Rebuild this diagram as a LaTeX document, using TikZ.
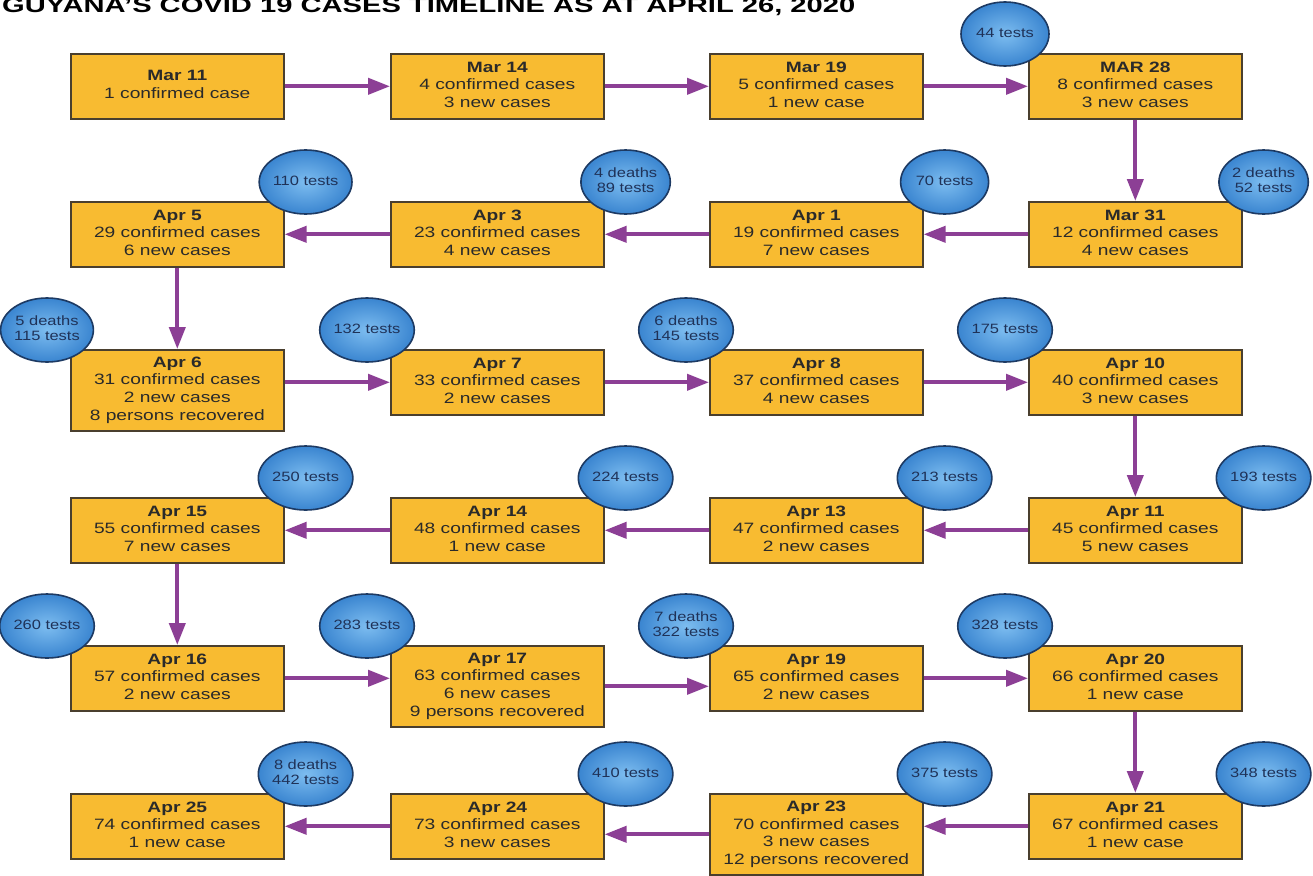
\documentclass[tikz,border=0pt]{standalone}
\usepackage{fontspec}
\setmainfont{Liberation Sans}
\usepackage{graphicx}
\usetikzlibrary{arrows.meta,shapes.geometric}
\definecolor{boxfill}{HTML}{F8BB31}
\definecolor{boxline}{HTML}{4A3F2E}
\definecolor{arr}{HTML}{8C3F95}
\definecolor{bubin}{HTML}{7DBDF0}
\definecolor{bubout}{HTML}{3A85D0}
\definecolor{bubline}{HTML}{1D3A63}
\definecolor{bubtext}{HTML}{1F3258}
\definecolor{boxtext}{HTML}{2A2A2A}
\newcommand{\bt}[1]{\scalebox{1.28}[1]{\begin{tabular}{@{}c@{}}#1\end{tabular}}}
\newcommand{\ct}[1]{\scalebox{1.22}[1]{\begin{tabular}{@{}c@{}}#1\end{tabular}}}
\begin{document}
\begin{tikzpicture}[x=1pt,y=-1pt,
 stepbox/.style={draw=boxline, line width=1.6pt, fill=boxfill, anchor=north west, minimum width=213pt, minimum height=65pt, inner sep=0pt, text=boxtext, font=\fontsize{15}{17.7}\selectfont},
 tallbox/.style={stepbox, minimum height=81pt},
 bubble/.style={ellipse, draw=bubline, line width=1.6pt, inner color=bubin, outer color=bubout, minimum width=88pt, minimum height=64pt, inner sep=0pt, text=bubtext, font=\fontsize{13.5}{15.5}\selectfont},
 flow/.style={draw=arr, line width=4pt, -{Triangle[length=22pt,width=16pt]}}
]
\fill[white] (0,0) rectangle (1313,875);
\useasboundingbox (0,0) rectangle (1313,875);

\node[anchor=base west, inner sep=0pt] (title) at (2,12.5) {\resizebox{853pt}{14.5pt}{\bfseries GUYANA'S COVID 19 CASES TIMELINE AS AT APRIL 26, 2020}};

% row 1
\node[stepbox] (m11) at (70,53) {\bt{\textbf{Mar 11}\\1 confirmed case}};
\node[stepbox] (m14) at (390,53) {\bt{\textbf{Mar 14}\\4 confirmed cases\\3 new cases}};
\node[stepbox] (m19) at (709,53) {\bt{\textbf{Mar 19}\\5 confirmed cases\\1 new case}};
\node[stepbox] (m28) at (1028,53) {\bt{\textbf{MAR 28}\\8 confirmed cases\\3 new cases}};
% row 2
\node[stepbox] (a5) at (70,201) {\bt{\textbf{Apr 5}\\29 confirmed cases\\6 new cases}};
\node[stepbox] (a3) at (390,201) {\bt{\textbf{Apr 3}\\23 confirmed cases\\4 new cases}};
\node[stepbox] (a1) at (709,201) {\bt{\textbf{Apr 1}\\19 confirmed cases\\7 new cases}};
\node[stepbox] (m31) at (1028,201) {\bt{\textbf{Mar 31}\\12 confirmed cases\\4 new cases}};
% row 3
\node[tallbox] (a6) at (70,349) {\bt{\textbf{Apr 6}\\31 confirmed cases\\2 new cases\\8 persons recovered}};
\node[stepbox] (a7) at (390,349) {\bt{\textbf{Apr 7}\\33 confirmed cases\\2 new cases}};
\node[stepbox] (a8) at (709,349) {\bt{\textbf{Apr 8}\\37 confirmed cases\\4 new cases}};
\node[stepbox] (a10) at (1028,349) {\bt{\textbf{Apr 10}\\40 confirmed cases\\3 new cases}};
% row 4
\node[stepbox] (a15) at (70,497) {\bt{\textbf{Apr 15}\\55 confirmed cases\\7 new cases}};
\node[stepbox] (a14) at (390,497) {\bt{\textbf{Apr 14}\\48 confirmed cases\\1 new case}};
\node[stepbox] (a13) at (709,497) {\bt{\textbf{Apr 13}\\47 confirmed cases\\2 new cases}};
\node[stepbox] (a11) at (1028,497) {\bt{\textbf{Apr 11}\\45 confirmed cases\\5 new cases}};
% row 5
\node[stepbox] (a16) at (70,645) {\bt{\textbf{Apr 16}\\57 confirmed cases\\2 new cases}};
\node[tallbox] (a17) at (390,645) {\bt{\textbf{Apr 17}\\63 confirmed cases\\6 new cases\\9 persons recovered}};
\node[stepbox] (a19) at (709,645) {\bt{\textbf{Apr 19}\\65 confirmed cases\\2 new cases}};
\node[stepbox] (a20) at (1028,645) {\bt{\textbf{Apr 20}\\66 confirmed cases\\1 new case}};
% row 6
\node[stepbox] (a25) at (70,793) {\bt{\textbf{Apr 25}\\74 confirmed cases\\1 new case}};
\node[stepbox] (a24) at (390,793) {\bt{\textbf{Apr 24}\\73 confirmed cases\\3 new cases}};
\node[tallbox] (a23) at (709,793) {\bt{\textbf{Apr 23}\\70 confirmed cases\\3 new cases\\12 persons recovered}};
\node[stepbox] (a21) at (1028,793) {\bt{\textbf{Apr 21}\\67 confirmed cases\\1 new case}};

% connectors
\draw[flow] (m11.east) -- (m14.west);
\draw[flow] (m14.east) -- (m19.west);
\draw[flow] (m19.east) -- (m28.west);
\draw[flow] (m28.south) -- (m31.north);
\draw[flow] (m31.west) -- (a1.east);
\draw[flow] (a1.west) -- (a3.east);
\draw[flow] (a3.west) -- (a5.east);
\draw[flow] (a5.south) -- (a6.north);
\draw[flow] (a7.west -| a6.east) -- (a7.west);
\draw[flow] (a7.east) -- (a8.west);
\draw[flow] (a8.east) -- (a10.west);
\draw[flow] (a10.south) -- (a11.north);
\draw[flow] (a11.west) -- (a13.east);
\draw[flow] (a13.west) -- (a14.east);
\draw[flow] (a14.west) -- (a15.east);
\draw[flow] (a15.south) -- (a16.north);
\draw[flow] (a16.east) -- (a16.east -| a17.west);
\draw[flow] (a17.east) -- (a17.east -| a19.west);
\draw[flow] (a19.east) -- (a20.west);
\draw[flow] (a20.south) -- (a21.north);
\draw[flow] (a21.west) -- (a21.west -| a23.east);
\draw[flow] (a23.west) -- (a23.west -| a24.east);
\draw[flow] (a24.west) -- (a25.east);

% bubbles
\node[bubble] (t28) at ([shift={(-23,-19)}]m28.north west) {\ct{44 tests}};
\node[bubble] (t5) at ([shift={(21,-19)}]a5.north east) {\ct{110 tests}};
\node[bubble] (t3) at ([shift={(21,-19)}]a3.north east) {\ct{4 deaths\\89 tests}};
\node[bubble] (t1) at ([shift={(21,-19)}]a1.north east) {\ct{70 tests}};
\node[bubble] (t31) at ([shift={(21,-19)}]m31.north east) {\ct{2 deaths\\52 tests}};
\node[bubble] (t6) at ([shift={(-23,-19)}]a6.north west) {\ct{5 deaths\\115 tests}};
\node[bubble] (t7) at ([shift={(-23,-19)}]a7.north west) {\ct{132 tests}};
\node[bubble] (t8) at ([shift={(-23,-19)}]a8.north west) {\ct{6 deaths\\145 tests}};
\node[bubble] (t10) at ([shift={(-23,-19)}]a10.north west) {\ct{175 tests}};
\node[bubble] (t15) at ([shift={(21,-19)}]a15.north east) {\ct{250 tests}};
\node[bubble] (t14) at ([shift={(21,-19)}]a14.north east) {\ct{224 tests}};
\node[bubble] (t13) at ([shift={(21,-19)}]a13.north east) {\ct{213 tests}};
\node[bubble] (t11) at ([shift={(21,-19)}]a11.north east) {\ct{193 tests}};
\node[bubble] (t16) at ([shift={(-23,-19)}]a16.north west) {\ct{260 tests}};
\node[bubble] (t17) at ([shift={(-23,-19)}]a17.north west) {\ct{283 tests}};
\node[bubble] (t19) at ([shift={(-23,-19)}]a19.north west) {\ct{7 deaths\\322 tests}};
\node[bubble] (t20) at ([shift={(-23,-19)}]a20.north west) {\ct{328 tests}};
\node[bubble] (t25) at ([shift={(21,-19)}]a25.north east) {\ct{8 deaths\\442 tests}};
\node[bubble] (t24) at ([shift={(21,-19)}]a24.north east) {\ct{410 tests}};
\node[bubble] (t23) at ([shift={(21,-19)}]a23.north east) {\ct{375 tests}};
\node[bubble] (t21) at ([shift={(21,-19)}]a21.north east) {\ct{348 tests}};
\end{tikzpicture}
\end{document}
